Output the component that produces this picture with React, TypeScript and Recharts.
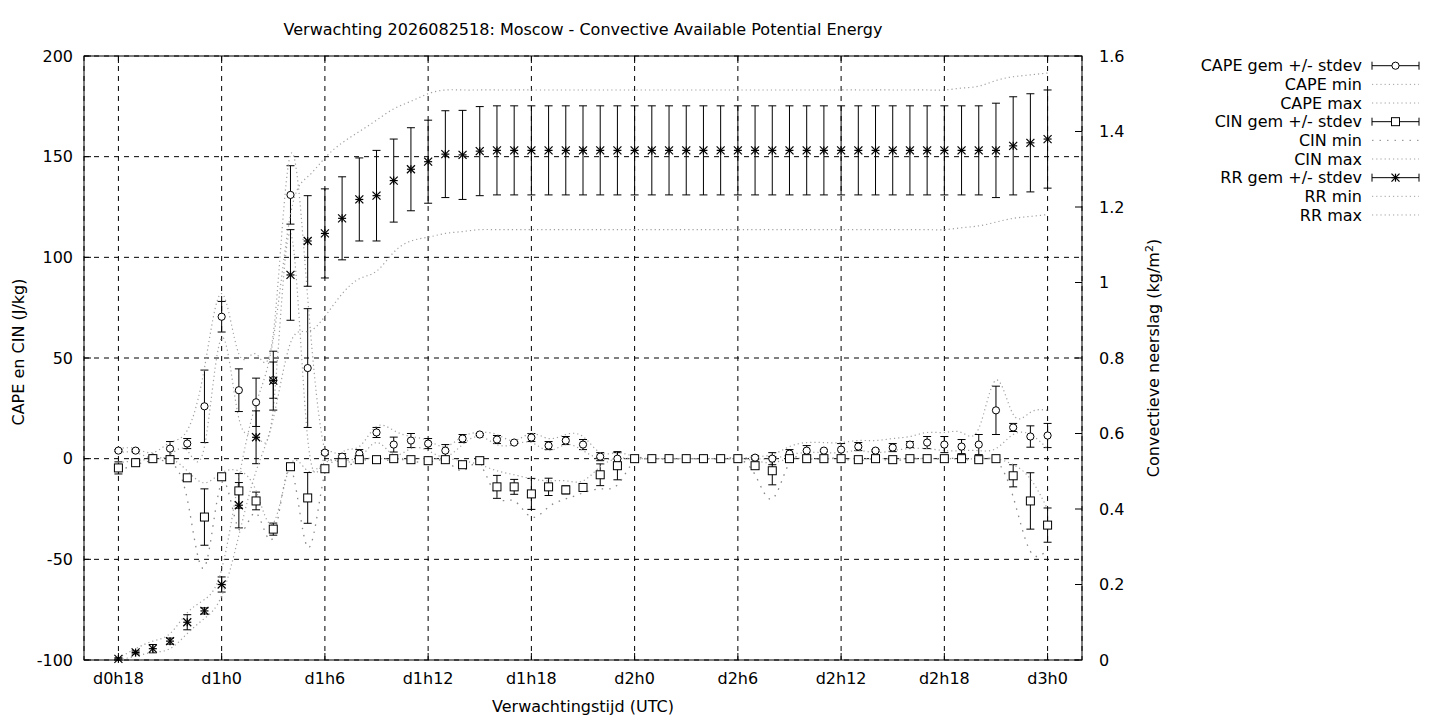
import React from 'react'
import { ComposedChart, Line, ErrorBar, XAxis, YAxis, CartesianGrid } from 'recharts'

// forecast hours (d0h18 .. d3h0)
const HOURS = [
  18, 19, 20, 21, 22, 23, 24, 25, 26, 27, 28, 29, 30, 31, 32, 33, 34, 35, 36,
  37, 38, 39, 40, 41, 42, 43, 44, 45, 46, 47, 48, 49, 50, 51, 52, 53, 54, 55,
  56, 57, 58, 59, 60, 61, 62, 63, 64, 65, 66, 67, 68, 69, 70, 71, 72,
]
const TICK_HOURS = [18, 24, 30, 36, 42, 48, 54, 60, 66, 72]
const TICK_LABELS = ['d0h18', 'd1h0', 'd1h6', 'd1h12', 'd1h18', 'd2h0', 'd2h6', 'd2h12', 'd2h18', 'd3h0']
const LEFT_TICKS = [-100, -50, 0, 50, 100, 150, 200]
const RIGHT_TICKS = [0, 0.2, 0.4, 0.6, 0.8, 1, 1.2, 1.4, 1.6]

const CAPE_MEAN = [
  4, 4, 0.5, 5, 7.5, 26, 70.5, 34, 28, 39, 131, 45, 3, 1, 2.5, 13, 7, 9, 7.5,
  4, 10, 12, 9.5, 8, 10.5, 6.5, 9, 7, 1, 0, 0, 0, 0, 0, 0, 0, 0, 0.5,
  0, 2.5, 4, 4, 4.5, 6, 4, 5.5, 7, 8, 7, 6, 7, 24, 15.5, 11, 11.5,
]
const CAPE_SD = [
  0.5, 0.5, 0.5, 3.5, 2.5, 18, 7.6, 10.6, 12, 9, 14.5, 29.5, 1, 1.5, 2, 2.5, 3.7, 3.5, 2.5,
  3, 2, 0.5, 2, 0.5, 2, 2, 2, 2.5, 2, 3, 0.3, 0, 0, 0, 0, 0, 0, 1,
  3, 2, 2.5, 0.5, 3, 2, 0.5, 2, 1.5, 3, 4, 3.5, 5, 12, 2, 5.3, 6,
]
const CAPE_MIN = [
  3, 3, 0, 2, 4, 6, 60, 20, 12, 25, 112, 10, 1, 0, 0, 8, 2, 5, 4,
  1, 7, 11, 7, 7, 8, 4, 7, 4, 0, 0, 0, 0, 0, 0, 0, 0, 0, 0,
  0, 2, 3, 3, 3, 4, 3, 4, 5, 5, 4, 4, 4, 5, 12, 12, 5,
]
const CAPE_MAX = [
  5, 5, 3, 8, 14, 45, 82, 52, 52, 62, 151, 80, 4, 3, 6, 16, 14, 11, 9,
  6, 11, 13, 12, 9, 12.5, 10, 12, 11, 3, 3, 1, 0, 0, 0, 0, 0, 0, 1,
  2, 6, 8, 8, 8, 9, 9, 10, 11, 13, 13, 13, 15, 39, 22, 23, 24,
]

const CIN_MEAN = [
  -4.6, -2, 0, -0.5, -9.5, -29, -9, -16, -21, -35, -4, -19.5, -5, -2, -0.5, -0.5, 0, -0.5, -1,
  -0.5, -3, -1, -14, -14, -17.5, -14, -15.5, -14.3, -8, -3.5, 0, 0, 0, 0, 0, 0, 0, -3.5,
  -6, 0, 0, 0, 0, -0.5, 0, -0.5, 0, 0, 0, 0, -0.5, 0, -8.5, -21, -33,
]
const CIN_SD = [
  3, 0.5, 1, 1, 1, 14, 1, 8.6, 4.4, 3, 0.5, 12.6, 1, 1, 0.3, 0.3, 0.3, 0.3, 0.3,
  0.3, 0.5, 0.3, 5.7, 3.7, 7.7, 4.3, 2, 0.5, 5.4, 7, 0.3, 0, 0, 0, 0, 0, 0, 1,
  7, 0.3, 0.3, 0.3, 1, 0.3, 0.3, 0.3, 0.3, 0.3, 0.3, 0.3, 0.3, 0.3, 5.5, 14, 8.5,
]
const CIN_MIN = [
  -6, -3, -1, -2, -20, -54, -12, -35, -27, -39, -5, -44, -7, -3, -1, -1, -0.5, -1, -2,
  -1, -6, -3, -19, -21, -29, -24, -20, -17, -15, -13, -1, 0, 0, 0, 0, 0, 0, -8,
  -20, -2, 0, 0, 0, -1, 0, -1, 0, 0, 0, 0, -1, -1, -19, -46, -45,
]
const CIN_MAX = [
  -2, -1, 0, 0, -6, -12, -7, -6, -16, -32, -3, -6, -2, -1, 0, 0, 0, 0, 0,
  0, -1, -3, -6, -8, -10, -11, -11, -11, -4, 0, 0, 0, 0, 0, 0, 0, 0, -1,
  -2, 0, 0, 0, 0, 0, 0, 0, 0, 0, 0, 0, 0, 0, -3, -10, -25,
]

const RR_MEAN = [
  0.003, 0.02, 0.03, 0.05, 0.1, 0.13, 0.2, 0.41, 0.59, 0.74, 1.02, 1.11, 1.13, 1.17, 1.22, 1.23, 1.27, 1.3, 1.32,
  1.34, 1.338, 1.348, 1.35, 1.35, 1.35, 1.35, 1.35, 1.35, 1.35, 1.35, 1.35, 1.35, 1.35, 1.35, 1.35, 1.35, 1.35, 1.35,
  1.35, 1.35, 1.35, 1.35, 1.35, 1.35, 1.35, 1.35, 1.35, 1.35, 1.35, 1.35, 1.35, 1.35, 1.362, 1.37, 1.38,
]
const RR_SD = [
  0.003, 0.004, 0.011, 0.008, 0.02, 0.008, 0.02, 0.06, 0.07, 0.078, 0.12, 0.12, 0.118, 0.11, 0.11, 0.12, 0.11, 0.11, 0.11,
  0.115, 0.118, 0.118, 0.118, 0.118, 0.118, 0.118, 0.118, 0.118, 0.118, 0.118, 0.118, 0.118, 0.118, 0.118, 0.118, 0.118, 0.118, 0.118,
  0.118, 0.118, 0.118, 0.118, 0.118, 0.118, 0.118, 0.118, 0.118, 0.118, 0.118, 0.118, 0.118, 0.125, 0.13, 0.13, 0.13,
]
const RR_MIN = [
  0, 0.01, 0.02, 0.03, 0.07, 0.11, 0.17, 0.33, 0.5, 0.64, 0.84, 0.87, 0.91, 0.97, 1.01, 1.03, 1.08, 1.11, 1.12,
  1.13, 1.135, 1.14, 1.14, 1.14, 1.14, 1.14, 1.14, 1.14, 1.14, 1.14, 1.14, 1.14, 1.14, 1.14, 1.14, 1.14, 1.14, 1.14,
  1.14, 1.14, 1.14, 1.14, 1.14, 1.14, 1.14, 1.14, 1.14, 1.14, 1.14, 1.145, 1.15, 1.16, 1.17, 1.175, 1.18,
]
const RR_MAX = [
  0.005, 0.03, 0.05, 0.07, 0.125, 0.16, 0.24, 0.48, 0.68, 0.85, 1.18, 1.28, 1.33, 1.37, 1.4, 1.43, 1.46, 1.48, 1.5,
  1.51, 1.51, 1.51, 1.51, 1.51, 1.51, 1.51, 1.51, 1.51, 1.51, 1.51, 1.51, 1.51, 1.51, 1.51, 1.51, 1.51, 1.51, 1.51,
  1.51, 1.51, 1.51, 1.51, 1.51, 1.51, 1.51, 1.51, 1.51, 1.51, 1.51, 1.515, 1.52, 1.535, 1.545, 1.55, 1.555,
]

const rows = HOURS.map((h, i) => ({
  h,
  capeMean: CAPE_MEAN[i], capeSd: CAPE_SD[i], capeMin: CAPE_MIN[i], capeMax: CAPE_MAX[i],
  cinMean: CIN_MEAN[i], cinSd: CIN_SD[i], cinMin: CIN_MIN[i], cinMax: CIN_MAX[i],
  rrMean: RR_MEAN[i], rrSd: RR_SD[i], rrMin: RR_MIN[i], rrMax: RR_MAX[i],
}))

const W = 1440
const H = 720
const PLOT = { left: 84, right: 1082, top: 56, bottom: 660 }
const FONT = '"DejaVu Sans", sans-serif'
const DOT_GREY = '#a0a0a0'

// markers
function circleMark(cx: number, cy: number, key?: string | number) {
  return <circle key={key} cx={cx} cy={cy} r={3.6} fill="#fff" stroke="#000" strokeWidth={1} />
}
function squareMark(cx: number, cy: number, key?: string | number) {
  return <rect key={key} x={cx - 4} y={cy - 4} width={8} height={8} fill="#fff" stroke="#000" strokeWidth={1} />
}
function starMark(cx: number, cy: number, key?: string | number) {
  const r = 4
  return (
    <g key={key} stroke="#000" strokeWidth={1.2}>
      <line x1={cx - r} x2={cx + r} y1={cy} y2={cy} />
      <line x1={cx} x2={cx} y1={cy - r} y2={cy + r} />
      <line x1={cx - r} x2={cx + r} y1={cy - r} y2={cy + r} />
      <line x1={cx - r} x2={cx + r} y1={cy + r} y2={cy - r} />
    </g>
  )
}

const CircleDot = (p: any) => (p.cx == null ? <g key={p.index} /> : circleMark(p.cx, p.cy, p.index))
const SquareDot = (p: any) => (p.cx == null ? <g key={p.index} /> : squareMark(p.cx, p.cy, p.index))
const StarDot = (p: any) => (p.cx == null ? <g key={p.index} /> : starMark(p.cx, p.cy, p.index))

const labelFor = (h: number) => TICK_LABELS[TICK_HOURS.indexOf(h)] ?? ''
const fmtRight = (v: number) => String(Number(v.toFixed(1)))

function XTick(props: any) {
  const { x, payload } = props
  return (
    <g>
      <line x1={x} x2={x} y1={PLOT.bottom} y2={PLOT.bottom - 7} stroke="#000" />
      <line x1={x} x2={x} y1={PLOT.top} y2={PLOT.top + 7} stroke="#000" />
      <text x={x} y={PLOT.bottom + 24} textAnchor="middle" fontSize={16} fontFamily={FONT} fill="#000">
        {labelFor(payload.value)}
      </text>
    </g>
  )
}

function LeftTick(props: any) {
  const { y, payload } = props
  return (
    <g>
      <line x1={PLOT.left} x2={PLOT.left + 7} y1={y} y2={y} stroke="#000" />
      <text x={PLOT.left - 11} y={y} dy="0.36em" textAnchor="end" fontSize={16} fontFamily={FONT} fill="#000">
        {payload.value}
      </text>
    </g>
  )
}

function RightTick(props: any) {
  const { y, payload } = props
  return (
    <g>
      <line x1={PLOT.right} x2={PLOT.right - 7} y1={y} y2={y} stroke="#000" />
      <text x={PLOT.right + 17} y={y} dy="0.36em" textAnchor="start" fontSize={16} fontFamily={FONT} fill="#000">
        {fmtRight(payload.value)}
      </text>
    </g>
  )
}

const LEGEND = [
  { label: 'CAPE gem +/- stdev', kind: 'circle' },
  { label: 'CAPE min', kind: 'dots' },
  { label: 'CAPE max', kind: 'dots' },
  { label: 'CIN gem +/- stdev', kind: 'square' },
  { label: 'CIN min', kind: 'sparse' },
  { label: 'CIN max', kind: 'dots' },
  { label: 'RR gem +/- stdev', kind: 'star' },
  { label: 'RR min', kind: 'dots' },
  { label: 'RR max', kind: 'dots' },
]

function LegendBox() {
  const x0 = 1372
  const x1 = 1419
  const xm = (x0 + x1) / 2
  return (
    <g fontFamily={FONT} fontSize={16}>
      {LEGEND.map((l, i) => {
        const y = 65.7 + i * 18.66
        let sample: React.ReactNode
        if (l.kind === 'dots' || l.kind === 'sparse') {
          sample = (
            <line x1={x0} x2={x1} y1={y} y2={y} stroke={l.kind === 'sparse' ? '#888' : DOT_GREY}
              strokeDasharray={l.kind === 'sparse' ? '1.5 6' : '1.2 3'} />
          )
        } else {
          const mark = l.kind === 'circle' ? circleMark(xm, y) : l.kind === 'square' ? squareMark(xm, y) : starMark(xm, y)
          sample = (
            <g>
              <line x1={x0} x2={x1} y1={y} y2={y} stroke="#000" />
              <line x1={x0} x2={x0} y1={y - 4} y2={y + 4} stroke="#000" />
              <line x1={x1} x2={x1} y1={y - 4} y2={y + 4} stroke="#000" />
              {mark}
            </g>
          )
        }
        return (
          <g key={l.label}>
            <text x={1362} y={y} dy="0.36em" textAnchor="end" fill="#000">{l.label}</text>
            {sample}
          </g>
        )
      })}
    </g>
  )
}

export default function App() {
  return (
    <div style={{ position: 'absolute', left: 0, top: 0, width: W, height: H, background: '#fff' }}>
      <ComposedChart
        width={W}
        height={H}
        data={rows}
        margin={{ top: PLOT.top, left: PLOT.left - 60, right: W - PLOT.right - 60, bottom: H - PLOT.bottom - 30 }}
      >
        <CartesianGrid yAxisId="left" stroke="#000" strokeDasharray="5 5" />
        <XAxis
          dataKey="h"
          type="number"
          domain={[16, 74]}
          ticks={TICK_HOURS}
          interval={0}
          height={30}
          axisLine={false}
          tickLine={false}
          tick={<XTick />}
        />
        <YAxis
          yAxisId="left"
          domain={[-100, 200]}
          ticks={LEFT_TICKS}
          interval={0}
          width={60}
          axisLine={false}
          tickLine={false}
          tick={<LeftTick />}
        />
        <YAxis
          yAxisId="right"
          orientation="right"
          domain={[0, 1.6]}
          ticks={RIGHT_TICKS}
          interval={0}
          width={60}
          axisLine={false}
          tickLine={false}
          tick={<RightTick />}
        />

        <Line yAxisId="left" dataKey="capeMean" stroke="none" dot={CircleDot} activeDot={false} isAnimationActive={false}>
          <ErrorBar dataKey="capeSd" width={4} stroke="#000" strokeWidth={1} direction="y" />
        </Line>
        <Line yAxisId="left" dataKey="capeMin" type="natural" stroke={DOT_GREY} strokeWidth={1.2} strokeDasharray="1.2 3" dot={false} activeDot={false} isAnimationActive={false} />
        <Line yAxisId="left" dataKey="capeMax" type="natural" stroke={DOT_GREY} strokeWidth={1.2} strokeDasharray="1.2 3" dot={false} activeDot={false} isAnimationActive={false} />

        <Line yAxisId="left" dataKey="cinMean" stroke="none" dot={SquareDot} activeDot={false} isAnimationActive={false}>
          <ErrorBar dataKey="cinSd" width={4} stroke="#000" strokeWidth={1} direction="y" />
        </Line>
        <Line yAxisId="left" dataKey="cinMin" type="natural" stroke="#888" strokeWidth={1.3} strokeDasharray="1.5 6" dot={false} activeDot={false} isAnimationActive={false} />
        <Line yAxisId="left" dataKey="cinMax" type="natural" stroke={DOT_GREY} strokeWidth={1.2} strokeDasharray="1.2 3" dot={false} activeDot={false} isAnimationActive={false} />

        <Line yAxisId="right" dataKey="rrMean" stroke="none" dot={StarDot} activeDot={false} isAnimationActive={false}>
          <ErrorBar dataKey="rrSd" width={4} stroke="#000" strokeWidth={1} direction="y" />
        </Line>
        <Line yAxisId="right" dataKey="rrMin" type="natural" stroke={DOT_GREY} strokeWidth={1.2} strokeDasharray="1.2 3" dot={false} activeDot={false} isAnimationActive={false} />
        <Line yAxisId="right" dataKey="rrMax" type="natural" stroke={DOT_GREY} strokeWidth={1.2} strokeDasharray="1.2 3" dot={false} activeDot={false} isAnimationActive={false} />

        <rect x={PLOT.left} y={PLOT.top} width={PLOT.right - PLOT.left} height={PLOT.bottom - PLOT.top} fill="none" stroke="#000" strokeWidth={1} />

        <text x={(PLOT.left + PLOT.right) / 2} y={35} textAnchor="middle" fontSize={16} fontFamily={FONT} fill="#000">
          Verwachting 2026082518: Moscow - Convective Available Potential Energy
        </text>
        <text x={(PLOT.left + PLOT.right) / 2} y={712} textAnchor="middle" fontSize={16} fontFamily={FONT} fill="#000">
          Verwachtingstijd (UTC)
        </text>
        <text transform="translate(24,352) rotate(-90)" textAnchor="middle" fontSize={16} fontFamily={FONT} fill="#000">
          CAPE en CIN (J/kg)
        </text>
        <text transform="translate(1159,358) rotate(-90)" textAnchor="middle" fontSize={16} fontFamily={FONT} fill="#000">
          Convectieve neerslag (kg/m
          <tspan dy={-6} fontSize={11}>2</tspan>
          <tspan dy={6}>)</tspan>
        </text>
        <LegendBox />
      </ComposedChart>
    </div>
  )
}
